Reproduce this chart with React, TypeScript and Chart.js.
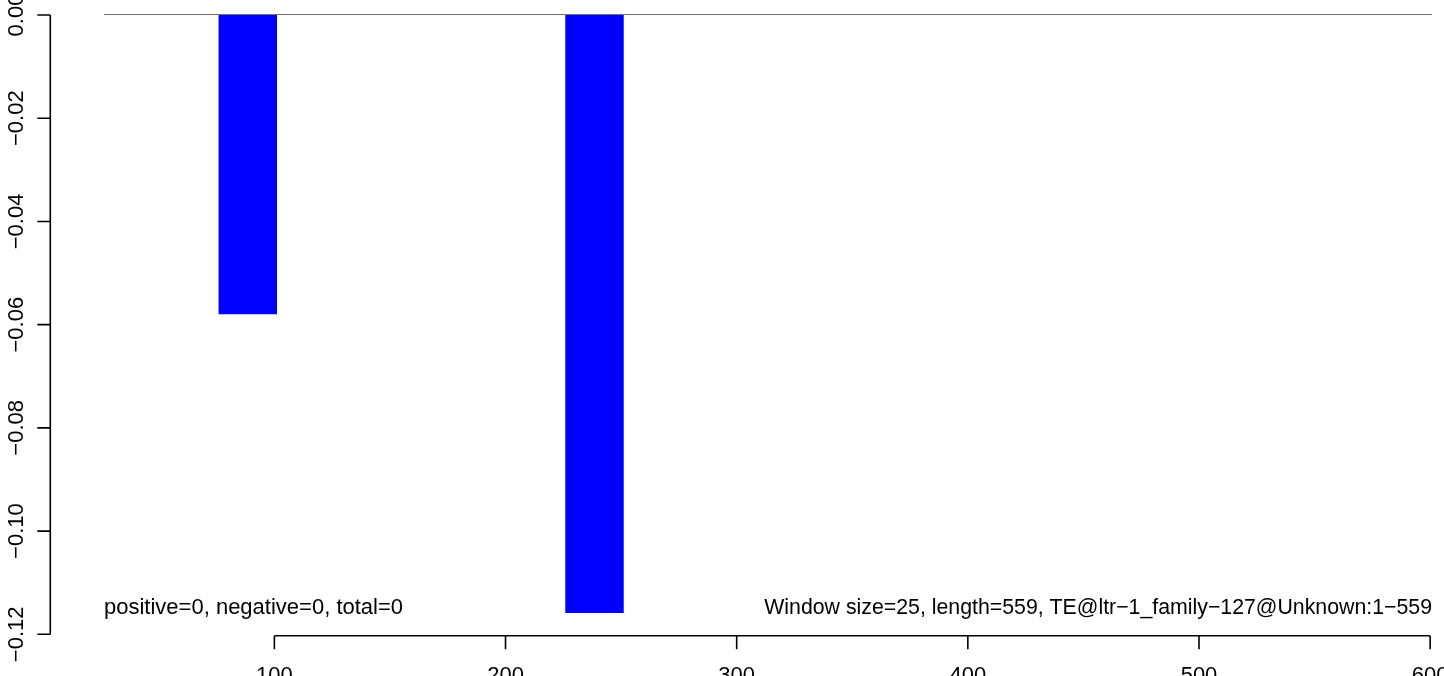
import React, { useEffect, useRef } from "react";
import { Chart, registerables } from "chart.js";

Chart.register(...registerables);

// ---- data ----
const windowStarts = [76, 226];
const windowValues = [-0.0579, -0.1158];
const windowSize = 25;

const yTicks = [0, -0.02, -0.04, -0.06, -0.08, -0.1, -0.12];
const yTickLabels = ["0.00", "\u22120.02", "\u22120.04", "\u22120.06", "\u22120.08", "\u22120.10", "\u22120.12"];
const xTicks = [100, 200, 300, 400, 500, 600];
const xTickLabels = ["100", "200", "300", "400", "500", "600"];

const leftNote = "positive=0, negative=0, total=0";
const rightNote = "Window size=25, length=559, TE@ltr\u22121_family\u2212127@Unknown:1\u2212559";

// ---- layout ----
const W = 1444;
const H = 676;
const PAD = { left: 104, right: 12, top: 15, bottom: 41.7 };
const X_MIN = 26.3;
const X_MAX = 600.8;
const Y_MIN = -0.12;
const Y_MAX = 0;
const FAMILY = '"Liberation Sans", Arial, sans-serif';
const FONT = "22px " + FAMILY;
const NOTE_FONT_R = "21.3px " + FAMILY;

const rPlotPlugin = {
  id: "rPlot",
  beforeDatasetsDraw(chart: any) {
    const { ctx, chartArea, scales } = chart;
    const y0 = scales.y.getPixelForValue(0);
    ctx.save();
    ctx.strokeStyle = "#707070";
    ctx.lineWidth = 1;
    ctx.beginPath();
    ctx.moveTo(chartArea.left, y0 - 0.5);
    ctx.lineTo(chartArea.right, y0 - 0.5);
    ctx.stroke();
    ctx.restore();
  },
  afterDraw(chart: any) {
    const { ctx, scales } = chart;
    const xs = scales.x;
    const ys = scales.y;
    ctx.save();
    ctx.strokeStyle = "#000";
    ctx.fillStyle = "#000";
    ctx.lineWidth = 1.6;
    ctx.font = FONT;

    // y axis
    const axX = 50.3;
    const yTop = ys.getPixelForValue(yTicks[0]);
    const yBot = ys.getPixelForValue(yTicks[yTicks.length - 1]);
    ctx.beginPath();
    ctx.moveTo(axX, yTop);
    ctx.lineTo(axX, yBot);
    yTicks.forEach((v) => {
      const p = ys.getPixelForValue(v);
      ctx.moveTo(axX, p);
      ctx.lineTo(axX - 13, p);
    });
    ctx.stroke();
    ctx.textAlign = "center";
    ctx.textBaseline = "alphabetic";
    yTicks.forEach((v, i) => {
      const p = ys.getPixelForValue(v);
      ctx.save();
      ctx.translate(23, p);
      ctx.rotate(-Math.PI / 2);
      ctx.fillText(yTickLabels[i], 0, 0);
      ctx.restore();
    });

    // x axis
    const axY = 635.7;
    const xl = xs.getPixelForValue(xTicks[0]);
    const xr = xs.getPixelForValue(xTicks[xTicks.length - 1]);
    ctx.beginPath();
    ctx.moveTo(xl, axY);
    ctx.lineTo(xr, axY);
    xTicks.forEach((v) => {
      const p = xs.getPixelForValue(v);
      ctx.moveTo(p, axY);
      ctx.lineTo(p, axY + 13.6);
    });
    ctx.stroke();
    xTicks.forEach((v, i) => {
      const p = xs.getPixelForValue(v);
      ctx.fillText(xTickLabels[i], p, 682.4);
    });

    // notes
    ctx.textAlign = "left";
    ctx.fillText(leftNote, chart.chartArea.left, 613.5);
    ctx.font = NOTE_FONT_R;
    ctx.textAlign = "right";
    ctx.fillText(rightNote, chart.chartArea.right, 613.5);
    ctx.restore();
  },
};

export default function App() {
  const ref = useRef<HTMLCanvasElement | null>(null);
  useEffect(() => {
    if (!ref.current) return;
    const plotW = W - PAD.left - PAD.right;
    const barPx = (windowSize * plotW) / (X_MAX - X_MIN);
    const chart = new Chart(ref.current, {
      type: "bar",
      data: {
        datasets: [
          {
            data: windowStarts.map((s, i) => ({ x: s + windowSize / 2, y: windowValues[i] })),
            backgroundColor: "#0000ff",
            borderWidth: 0,
            barThickness: barPx,
          } as any,
        ],
      },
      options: {
        responsive: false,
        animation: false,
        devicePixelRatio: 1,
        layout: { padding: PAD },
        plugins: { legend: { display: false }, tooltip: { enabled: false } },
        scales: {
          x: { type: "linear", min: X_MIN, max: X_MAX, offset: false, display: false },
          y: { type: "linear", min: Y_MIN, max: Y_MAX, display: false },
        },
      },
      plugins: [rPlotPlugin],
    });
    return () => chart.destroy();
  }, []);
  return (
    <div style={{ position: "fixed", left: 0, top: 0, width: W, height: H, background: "#fff" }}>
      <canvas ref={ref} width={W} height={H} style={{ width: W, height: H, display: "block" }} />
    </div>
  );
}
